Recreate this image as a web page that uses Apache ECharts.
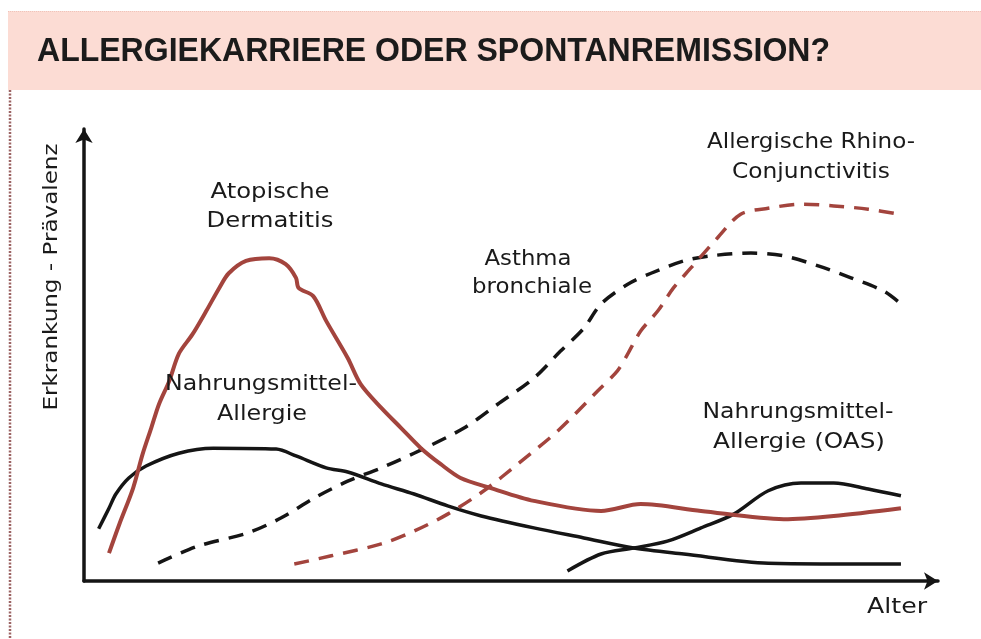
<!DOCTYPE html>
<html>
<head>
<meta charset="utf-8">
<script src="https://cdn.jsdelivr.net/npm/echarts@6/dist/echarts.min.js"></script>
<style>
html,body{margin:0;padding:0;background:#fff;}
#chart{width:981px;height:639px;}
</style>
</head>
<body>
<div id="chart"></div>
<script>
// ---- Data (arbitrary units: age 0..99, prevalence 0..99) ----
const titleText = 'ALLERGIEKARRIERE ODER SPONTANREMISSION?';
const xAxisName = 'Alter';
const yAxisName = 'Erkrankung - Prävalenz';

// Atopische Dermatitis (red solid)
const adAge  = [2.9, 4.1, 5.7, 6.8, 7.8, 8.7, 9.9, 11.0, 12.6, 14.2, 15.7, 16.8, 18.8, 21.5, 23.4, 24.6, 24.9, 26.6, 28.1, 30.6, 32.1, 34.5, 36.8, 39.1, 41.4, 43.7, 47.2, 52.2, 60.0, 64.6, 71.6, 81.2, 87.0, 94.8];
const adPrev = [6.1, 12.4, 20.3, 27.7, 33.4, 38.6, 43.7, 49.6, 53.9, 59.0, 64.0, 67.2, 69.9, 70.5, 69.2, 66.2, 64.0, 62.2, 56.8, 48.7, 43.0, 37.8, 33.4, 29.0, 25.5, 22.5, 20.3, 17.5, 15.3, 16.8, 15.3, 13.5, 14.2, 15.9];

// Nahrungsmittel-Allergie (black solid)
const naAge  = [1.7, 2.9, 3.7, 5.2, 7.2, 11.0, 15.0, 22.3, 24.6, 28.1, 30.6, 34.5, 38.3, 42.2, 46.1, 52.2, 58.0, 63.8, 69.6, 79.4, 94.8];
const naPrev = [11.4, 15.9, 19.0, 22.5, 25.1, 27.9, 29.0, 28.8, 27.3, 24.7, 23.8, 21.2, 19.0, 16.4, 14.2, 11.6, 9.4, 7.2, 5.9, 3.9, 3.7];

// Asthma bronchiale (black dashed)
const abAge  = [8.6, 13.2, 19.0, 22.9, 26.7, 30.6, 34.5, 38.3, 44.1, 48.0, 52.2, 55.3, 58.0, 60.0, 63.1, 65.8, 69.6, 72.7, 77.4, 81.2, 85.2, 89.0, 92.8, 94.8];
const abPrev = [3.9, 7.6, 10.5, 13.8, 18.1, 21.8, 24.7, 27.9, 33.4, 38.6, 44.3, 50.2, 55.2, 60.5, 64.8, 67.2, 69.9, 71.0, 71.6, 71.0, 68.8, 66.2, 63.3, 60.5];

// Allergische Rhino-Conjunctivitis (red dashed)
const rcAge  = [24.4, 28.7, 34.5, 38.3, 42.2, 46.4, 50.5, 55.0, 59.6, 61.9, 63.1, 64.6, 66.6, 68.4, 70.4, 73.5, 76.2, 79.4, 83.2, 87.0, 91.0, 94.5];
const rcPrev = [3.7, 5.5, 8.1, 10.9, 14.6, 19.7, 25.8, 32.8, 41.5, 45.9, 49.6, 54.6, 59.0, 64.0, 68.3, 74.9, 80.1, 81.4, 82.3, 81.9, 81.2, 80.1];

// Nahrungsmittel-Allergie (OAS) (black solid)
const oasAge  = [56.1, 60.0, 63.8, 67.7, 71.6, 75.4, 79.4, 83.2, 87.0, 91.0, 94.8];
const oasPrev = [2.2, 5.9, 7.2, 8.7, 11.6, 14.6, 19.7, 21.4, 21.4, 20.1, 18.6];

// Curve labels
const labelLines = [
  ['Atopische', 'Dermatitis'],
  ['Nahrungsmittel-', 'Allergie'],
  ['Asthma', 'bronchiale'],
  ['Allergische Rhino-', 'Conjunctivitis'],
  ['Nahrungsmittel-', 'Allergie (OAS)']
];

// ---- Build ----
const RED = '#a3443d';
const BLACK = '#151515';
const pairs = (xs, ys) => xs.map((x, i) => [x, ys[i]]);

const mctx = document.createElement('canvas').getContext('2d');
function widthOf(text, font) { mctx.font = font; return mctx.measureText(text).width; }

const labelFont = '21px "DejaVu Sans"';
function fitText(text, cx, cy, target, font, extra) {
  const w = widthOf(text, font);
  return Object.assign({
    type: 'text', x: cx, y: cy, scaleX: target / w, z: 50,
    style: { text: text, font: font, fill: '#1a1a1a', align: 'center', verticalAlign: 'middle' }
  }, extra || {});
}

const titleFont = 'bold 33px "Liberation Sans"';
const titleW = widthOf(titleText, titleFont);

// positions for label text [cx, cy, width]
const labelPlacement = [
  [[270, 193, 119], [270, 222, 127]],
  [[261, 385, 192], [262, 415, 90]],
  [[528, 260, 87], [532, 288, 120]],
  [[811, 143, 208], [811, 173, 158]],
  [[798, 413, 191], [799, 443, 172]]
];

const graphics = [
  { type: 'rect', shape: { x: 8, y: 11, width: 973, height: 79 }, style: { fill: '#fcdcd4' }, z: 1 },
  { type: 'line', shape: { x1: 8, y1: 11.5, x2: 981, y2: 11.5 }, style: { stroke: '#f0c4ba', lineWidth: 1, lineDash: [1, 1] }, z: 2 },
  { type: 'line', shape: { x1: 10, y1: 90, x2: 10, y2: 639 }, style: { stroke: '#9c6464', lineWidth: 2.5, lineDash: [2, 1.5] }, z: 2 },
  { type: 'text', x: 37, y: 52, scaleX: 793 / titleW, z: 5,
    style: { text: titleText, font: titleFont, fill: '#1b1b1b', align: 'left', verticalAlign: 'middle' } },
  fitText(xAxisName, 897, 608, 60, labelFont),
  fitText(yAxisName, 52, 277, 267, '20px "DejaVu Sans"', { rotation: Math.PI / 2 })
];
labelLines.forEach((lines, i) => {
  lines.forEach((t, j) => {
    const p = labelPlacement[i][j];
    graphics.push(fitText(t, p[0], p[1], p[2], labelFont));
  });
});

function lineSeries(name, xs, ys, color, dashed, width) {
  return {
    name: name, type: 'line', smooth: 0.3, showSymbol: false, symbol: 'none',
    data: pairs(xs, ys), z: 10,
    lineStyle: { color: color, width: width, type: dashed ? [15, 10] : 'solid', cap: 'butt', join: 'round' },
    emphasis: { disabled: true }
  };
}

const chart = echarts.init(document.getElementById('chart'));
chart.setOption({
  backgroundColor: '#ffffff',
  animation: false,
  grid: { left: 84, right: 43, top: 129, bottom: 58 },
  xAxis: {
    type: 'value', min: 0, max: 99.1,
    axisLine: { show: true, symbol: ['none', 'arrow'], symbolSize: [13, 14], lineStyle: { color: BLACK, width: 3.5 } },
    axisTick: { show: false }, axisLabel: { show: false }, splitLine: { show: false }
  },
  yAxis: {
    type: 'value', min: 0, max: 98.7,
    axisLine: { show: true, symbol: ['none', 'arrow'], symbolSize: [13, 14], lineStyle: { color: BLACK, width: 3.5 } },
    axisTick: { show: false }, axisLabel: { show: false }, splitLine: { show: false }
  },
  series: [
    lineSeries('Nahrungsmittel-Allergie', naAge, naPrev, BLACK, false, 3.5),
    lineSeries('Asthma bronchiale', abAge, abPrev, BLACK, true, 3.5),
    lineSeries('Allergische Rhino-Conjunctivitis', rcAge, rcPrev, RED, true, 3.5),
    lineSeries('Nahrungsmittel-Allergie (OAS)', oasAge, oasPrev, BLACK, false, 3.5),
    lineSeries('Atopische Dermatitis', adAge, adPrev, RED, false, 4)
  ],
  graphic: graphics
});
</script>
</body>
</html>
